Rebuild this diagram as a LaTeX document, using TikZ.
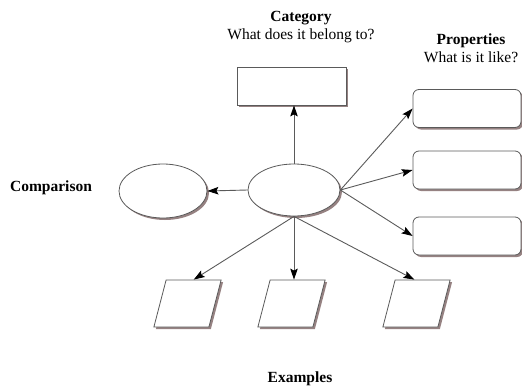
\documentclass[tikz,border=0pt]{standalone}
\usepackage{fontspec}
\setmainfont{Liberation Serif}
\usetikzlibrary{shapes.geometric,shadows,arrows.meta,calc}
\definecolor{shadowc}{RGB}{150,130,130}
\definecolor{edgec}{RGB}{90,90,90}
\begin{document}
\begin{tikzpicture}[x=1pt,y=-1pt,
  shape box/.style={draw=edgec, line width=0.8pt, fill=white, inner sep=0pt,
    drop shadow={shadow xshift=2pt, shadow yshift=-2pt, fill=shadowc, opacity=1}},
  catbox/.style={shape box, rectangle, minimum width=109pt, minimum height=38pt},
  propbox/.style={shape box, rectangle, rounded corners=6pt, minimum width=108pt, minimum height=38pt},
  oval/.style={shape box, ellipse},
  exbox/.style={shape box, rectangle, minimum width=55pt, minimum height=47pt, xslant=0.26, transform shape},
  label/.style={font=\fontsize{15.5}{17.5}\selectfont, align=center, inner sep=0pt},
  conn/.style={draw=edgec, line width=0.9pt, -{Stealth[length=11pt,width=7.5pt,inset=2pt,color=black]}}
]
\useasboundingbox (0,0) rectangle (522,388);

\node[label] (cattitle) at (301,27) {\textbf{Category}\\What does it belong to?};
\node[label] (proptitle) at (471,48) {\textbf{Properties}\\What is it like?};
\node[label] (cmptitle) at (51,188) {\textbf{Comparison}};
\node[label] (extitle) at (300,379) {\textbf{Examples}};

\node[catbox] (cat) at (291.5,86) {};
\node[propbox] (p1) at (467,108.5) {};
\node[propbox] (p2) at (467,170) {};
\node[propbox] (p3) at (467,236) {};
\node[oval, minimum width=92pt, minimum height=52pt] (c) at (294,190) {};
\node[oval, minimum width=88pt, minimum height=54pt] (cmp) at (163,191) {};
\node[exbox] (e1) at (187.5,303.5) {};
\node[exbox] (e2) at (291.5,303.5) {};
\node[exbox] (e3) at (416.5,303.5) {};

\draw[conn] (c.north) -- (c.north |- cat.south);
\draw[conn] (c.west) -- (cmp.east);
\draw[conn] (c.east) -- (p1.west);
\draw[conn] (c.east) -- (p2.west);
\draw[conn] (c.east) -- (p3.west);
\draw[conn] (c.south) -- (e1.north);
\draw[conn] (c.south) -- (c.south |- e2.north);
\draw[conn] (c.south) -- ($(e3.north west)!0.35!(e3.north east)$);
\end{tikzpicture}
\end{document}
